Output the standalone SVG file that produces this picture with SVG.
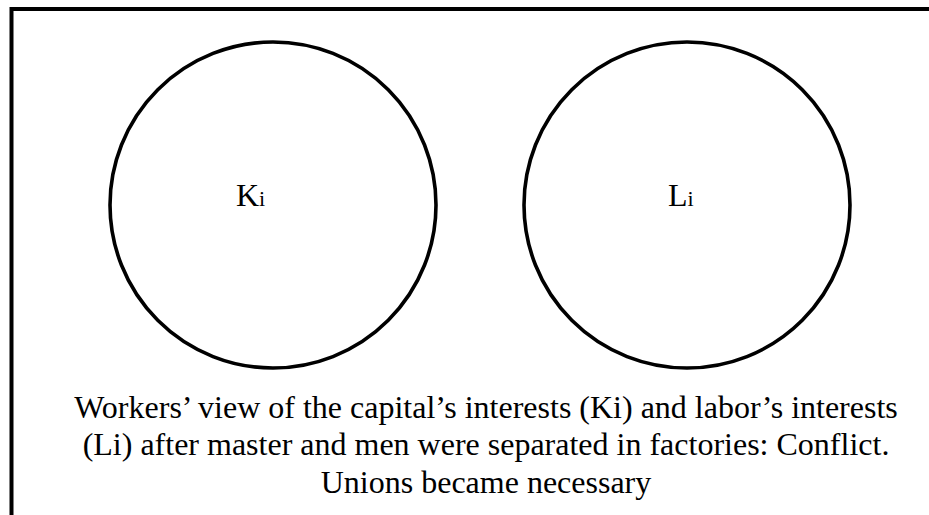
<svg xmlns="http://www.w3.org/2000/svg" width="929" height="515" viewBox="0 0 929 515">
<style>
.c{fill:none;stroke:#000;stroke-width:3.6}
.t{font-family:"Liberation Serif","Times New Roman",serif;fill:#000}
</style>
<rect width="929" height="515" fill="#fff"/>
<path d="M11.5,515 V9 H929" fill="none" stroke="#000" stroke-width="4"/>
<g id="ki">
<circle class="c" cx="273" cy="205" r="163"/>
<text class="t" x="236" y="206" font-size="32">K<tspan font-size="22">i</tspan></text>
</g>
<g id="li">
<circle class="c" cx="687" cy="205" r="163"/>
<text class="t" x="668" y="206" font-size="32">L<tspan font-size="22">i</tspan></text>
</g>
<g id="caption" class="t" font-size="32" text-anchor="middle">
<text x="486" y="418">Workers’ view of the capital’s interests (Ki) and labor’s interests</text>
<text x="486" y="455">(Li) after master and men were separated in factories: Conflict.</text>
<text x="486" y="493">Unions became necessary</text>
</g>
</svg>
